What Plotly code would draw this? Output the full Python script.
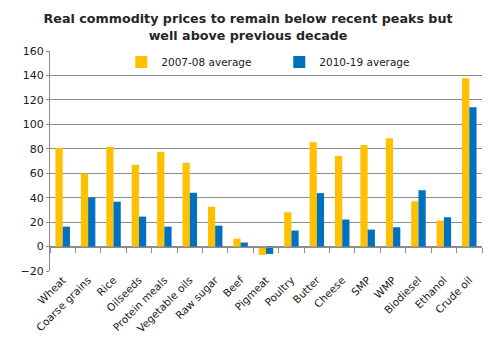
import plotly.graph_objects as go

categories = ["Wheat", "Coarse grains", "Rice", "Oilseeds", "Protein meals", "Vegetable oils",
              "Raw sugar", "Beef", "Pigmeat", "Poultry", "Butter", "Cheese", "SMP", "WMP",
              "Biodiesel", "Ethanol", "Crude oil"]
avg_2007_08 = [80.7, 59.8, 81.5, 66.9, 77.5, 68.5, 32.6, 6.5, -6.8, 28.1, 85.4, 74.0, 83.0, 88.7,
               37.1, 21.3, 137.8]
avg_2010_19 = [16.3, 40.2, 36.7, 24.5, 16.3, 44.0, 17.1, 3.3, -6.0, 13.1, 43.7, 22.1, 13.9, 15.8,
               46.1, 24.0, 114.0]
y_ticks = [-20, 0, 20, 40, 60, 80, 100, 120, 140, 160]

TXT = "#1a1a1a"
GRID = "#8c8c8c"
FONT = "DejaVu Sans"

fig = go.Figure()
fig.add_trace(go.Bar(x=categories, y=avg_2007_08, name="2007-08 average",
                     marker=dict(color="#FFC000", line=dict(width=0))))
fig.add_trace(go.Bar(x=categories, y=avg_2010_19, name="2010-19 average",
                     marker=dict(color="#0070C0", line=dict(width=0))))
# helper trace for the category axis drawn at zero
fig.add_trace(go.Scatter(x=categories, y=[0] * len(categories), xaxis="x2", mode="none",
                         showlegend=False, hoverinfo="skip"))

# the page body has an 8px margin, so the figure is 8px smaller than the window
fig.update_layout(
    width=484, height=349,
    paper_bgcolor="white", plot_bgcolor="white",
    margin=dict(l=42, r=10, t=43, b=86),
    title=dict(text="Real commodity prices to remain below recent peaks but<br>well above previous decade",
               x=0.496, xanchor="center", y=0.956, yanchor="middle",
               font=dict(family=FONT, size=12.7, color="#262626", weight="bold")),
    barmode="group", bargap=0.43, bargroupgap=0,
    font=dict(family=FONT, size=10.5, color=TXT),
    legend=dict(orientation="h", x=0.165, xanchor="left", y=0.95, yanchor="middle",
                bgcolor="rgba(0,0,0,0)", font=dict(size=10.5, color=TXT),
                entrywidth=113, entrywidthmode="pixels", itemwidth=30),
    xaxis=dict(type="category", categoryorder="array", categoryarray=categories,
               range=[-0.5, len(categories) - 0.5],
               tickangle=-45, showgrid=False, showline=False, ticks="", zeroline=False,
               tickfont=dict(family=FONT, size=10.5, color=TXT)),
    xaxis2=dict(type="category", categoryorder="array", categoryarray=categories,
                overlaying="x", anchor="free", position=20 / 180,
                range=[-0.5, len(categories) - 0.5],
                showticklabels=False, showgrid=False, showline=True, linecolor=GRID, linewidth=1,
                ticks="outside", tickson="boundaries", ticklen=5, tickcolor=GRID, tickwidth=1),
    yaxis=dict(range=[-20, 160], tickvals=y_ticks, showgrid=True, gridcolor=GRID, gridwidth=1,
               zeroline=False, showline=True, linecolor=GRID, linewidth=1,
               ticks="outside", ticklen=3, tickcolor=GRID,
               tickfont=dict(family=FONT, size=11, color=TXT)),
    showlegend=True,
)

fig.write_html("out.html")
